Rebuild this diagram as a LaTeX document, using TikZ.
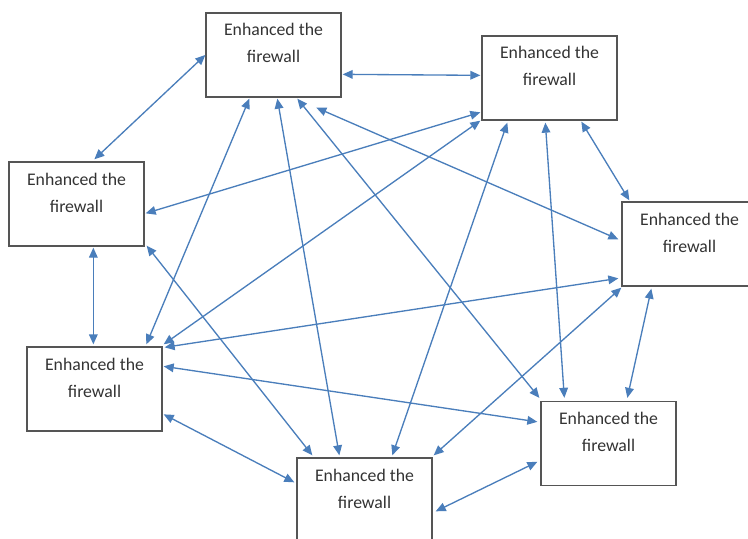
\documentclass[tikz,border=0pt]{standalone}
\usepackage{fontspec}
\setmainfont{Carlito}
\usetikzlibrary{arrows.meta,calc}

\definecolor{linkblue}{RGB}{74,126,187}
\definecolor{boxgray}{RGB}{85,85,85}

\tikzset{
    fwbox/.style={draw=boxgray, line width=1pt, rectangle, inner sep=0pt, text=black!80},
    link/.style={draw=linkblue, line width=1pt, >={Triangle[length=7.5pt,width=6.5pt]}, <->}
}

\newcommand{\fwtext}{\parbox[c][63pt][t]{101.25pt}{\centering\fontsize{13.3}{20.25}\selectfont\rule{0pt}{17.25pt}Enhanced the\\firewall}}

\begin{document}
\begin{tikzpicture}[x=0.75pt, y=-0.75pt]
    \useasboundingbox (0,0) rectangle (748,538);
    \clip (0,0) rectangle (748,538);

    \node[fwbox] (A) at (273.5,55) {\fwtext};
    \node[fwbox] (B) at (549.5,78) {\fwtext};
    \node[fwbox] (C) at (76.5,204) {\fwtext};
    \node[fwbox] (D) at (689.5,244) {\fwtext};
    \node[fwbox] (E) at (94.5,389) {\fwtext};
    \node[fwbox] (F) at (608.5,443.5) {\fwtext};
    \node[fwbox] (G) at (364.5,500) {\fwtext};

    \draw[link] (A.west) -- ($(C.north west)+(86,-2)$);
    \draw[link] ($(A.north east)+(1,62)$) -- ($(B.north west)+(-1,40)$);
    \draw[link] ($(A.south west)+(44,1)$) -- ($(E.north west)+(120,-2)$);
    \draw[link] ($(A.south west)+(72,1)$) -- ($(G.north west)+(43,-2)$);
    \draw[link] ($(A.south west)+(92,1)$) -- ($(F.north west)+(-1,-3)$);
    \draw[link] ($(A.south west)+(111,10)$) -- ($(D.north west)+(-3,38)$);
    \draw[link] ($(B.north west)+(-1,77)$) -- ($(C.north east)+(1,52)$);
    \draw[link] ($(B.south west)+(-1,0)$) -- ($(E.north east)+(1,-2)$);
    \draw[link] ($(B.south west)+(26,2)$) -- ($(G.north west)+(96,-2)$);
    \draw[link] ($(B.south west)+(64,2)$) -- ($(F.north west)+(24,-3)$);
    \draw[link] ($(B.south west)+(100,1)$) -- ($(D.north west)+(8,-1)$);
    \draw[link] ($(C.south west)+(85,1)$) -- ($(E.north west)+(67,-2)$);
    \draw[link] ($(C.south east)+(2,-1)$) -- ($(G.north west)+(16,-2)$);
    \draw[link] ($(D.north west)+(-3,77)$) -- ($(E.north east)+(2,1)$);
    \draw[link] ($(D.south west)+(0,1)$) -- ($(G.north east)+(1,-2)$);
    \draw[link] ($(D.south west)+(30,2)$) -- ($(F.north west)+(87,-3)$);
    \draw[link] ($(E.north east)+(1,20)$) -- ($(F.north west)+(-3,21)$);
    \draw[link] ($(E.north east)+(1,68)$) -- ($(G.north west)+(-2,25)$);
    \draw[link] ($(F.north west)+(-3,61)$) -- ($(G.north east)+(3,54)$);
\end{tikzpicture}
\end{document}
